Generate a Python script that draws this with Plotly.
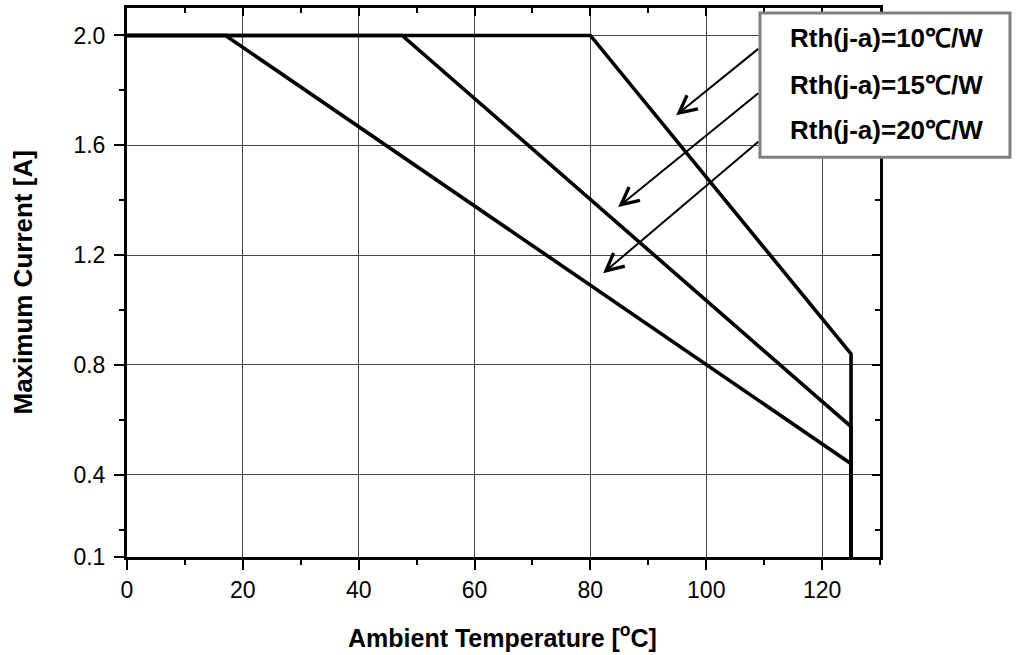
import plotly.graph_objects as go

# ---- data ----
temp_10 = [0, 80, 125, 125]
curr_10 = [2.0, 2.0, 0.84, 0.1]
temp_15 = [0, 47.5, 125, 125]
curr_15 = [2.0, 2.0, 0.575, 0.1]
temp_20 = [0, 17, 125, 125]
curr_20 = [2.0, 2.0, 0.44, 0.1]
series_labels = ["Rth(j-a)=10℃/W", "Rth(j-a)=15℃/W", "Rth(j-a)=20℃/W"]

x_ticks = [0, 20, 40, 60, 80, 100, 120]
x_minor = [10, 30, 50, 70, 90, 110, 130]
y_ticks = [0.1, 0.4, 0.8, 1.2, 1.6, 2.0]
y_ticktext = ["0.1", "0.4", "0.8", "1.2", "1.6", "2.0"]
y_minor = [0.2, 0.6, 1.0, 1.4, 1.8]

X_RANGE = [0, 130]
Y_RANGE = [0.1, 2.1]

# annotation arrows (tail -> tip), data coordinates
arrows = [
    ((109.5, 1.960), (94.8, 1.709)),
    ((109.5, 1.798), (84.8, 1.375)),
    ((109.5, 1.622), (82.2, 1.134)),
]

FONT = "Arial, Liberation Sans, sans-serif"

fig = go.Figure()
for xs, ys in [(temp_10, curr_10), (temp_15, curr_15), (temp_20, curr_20)]:
    fig.add_trace(go.Scatter(x=xs, y=ys, mode="lines",
                             line=dict(color="black", width=3.6),
                             showlegend=False, hoverinfo="skip"))
# helper empty trace for mirrored (inside) ticks on top/right
fig.add_trace(go.Scatter(x=[None], y=[None], xaxis="x2", yaxis="y2",
                         showlegend=False, hoverinfo="skip"))

axis_common = dict(showline=True, linecolor="black", zeroline=False,
                   ticks="outside", ticklen=10, tickwidth=2, tickcolor="black",
                   showgrid=True, gridcolor="#444444", gridwidth=1,
                   tickfont=dict(family=FONT, size=23, color="black"))

fig.update_layout(
    width=1030, height=655,
    margin=dict(l=127, r=150, t=5, b=98),
    paper_bgcolor="white", plot_bgcolor="white",
    xaxis=dict(range=X_RANGE, tickmode="array", tickvals=x_ticks,
               linewidth=3, mirror=True,
               minor=dict(tickmode="array", tickvals=x_minor, ticks="outside",
                          ticklen=5, tickwidth=2, tickcolor="black", showgrid=False),
               **axis_common),
    yaxis=dict(range=Y_RANGE, tickmode="array", tickvals=y_ticks, ticktext=y_ticktext,
               linewidth=3, mirror=True, ticklabelstandoff=4,
               minor=dict(tickmode="array", tickvals=y_minor, ticks="outside",
                          ticklen=5, tickwidth=2, tickcolor="black", showgrid=False),
               **axis_common),
    xaxis2=dict(range=X_RANGE, overlaying="x", side="top", anchor="y2",
                tickmode="array", tickvals=x_ticks, ticks="inside", ticklen=8,
                tickwidth=2, tickcolor="black", showticklabels=False,
                showgrid=False, zeroline=False, showline=False,
                minor=dict(tickmode="array", tickvals=x_minor, ticks="inside",
                           ticklen=5, tickwidth=2, tickcolor="black")),
    yaxis2=dict(range=Y_RANGE, overlaying="y", side="right", anchor="x2",
                tickmode="array", tickvals=y_ticks, ticks="inside", ticklen=8,
                tickwidth=2, tickcolor="black", showticklabels=False,
                showgrid=False, zeroline=False, showline=False,
                minor=dict(tickmode="array", tickvals=y_minor, ticks="inside",
                           ticklen=5, tickwidth=2, tickcolor="black")),
)

# legend-like box
fig.add_shape(type="rect", xref="paper", yref="paper",
              x0=0.8406, x1=1.1726, y0=0.7283, y1=0.9909,
              line=dict(color="#808080", width=3), fillcolor="white", layer="above")

label_y = [0.9457, 0.8605, 0.7772]
for txt, yy in zip(series_labels, label_y):
    fig.add_annotation(text=txt, xref="paper", yref="paper", x=0.878, y=yy,
                       xanchor="left", yanchor="middle", showarrow=False,
                       font=dict(family=FONT, size=26, color="black", weight="bold"))

for (tx, ty), (hx, hy) in arrows:
    fig.add_annotation(x=hx, y=hy, ax=tx, ay=ty, xref="x", yref="y",
                       axref="x", ayref="y", text=" ", showarrow=True,
                       arrowhead=5, arrowsize=1.7, arrowwidth=2, arrowcolor="black",
                       standoff=0)

# axis titles
fig.add_annotation(text="Ambient Temperature [<sup>o</sup>C]", xref="paper", yref="paper",
                   x=0.4987, y=-0.1431, xanchor="center", yanchor="middle",
                   showarrow=False,
                   font=dict(family=FONT, size=25, color="black", weight="bold"))
fig.add_annotation(text="Maximum Current [A]", xref="paper", yref="paper",
                   x=-0.1394, y=0.5, xanchor="center", yanchor="middle",
                   textangle=-90, showarrow=False,
                   font=dict(family=FONT, size=26, color="black", weight="bold"))

fig.write_html("out.html", config={"displayModeBar": False},
               post_script="document.body.style.margin='0';document.body.style.overflow='hidden';")
